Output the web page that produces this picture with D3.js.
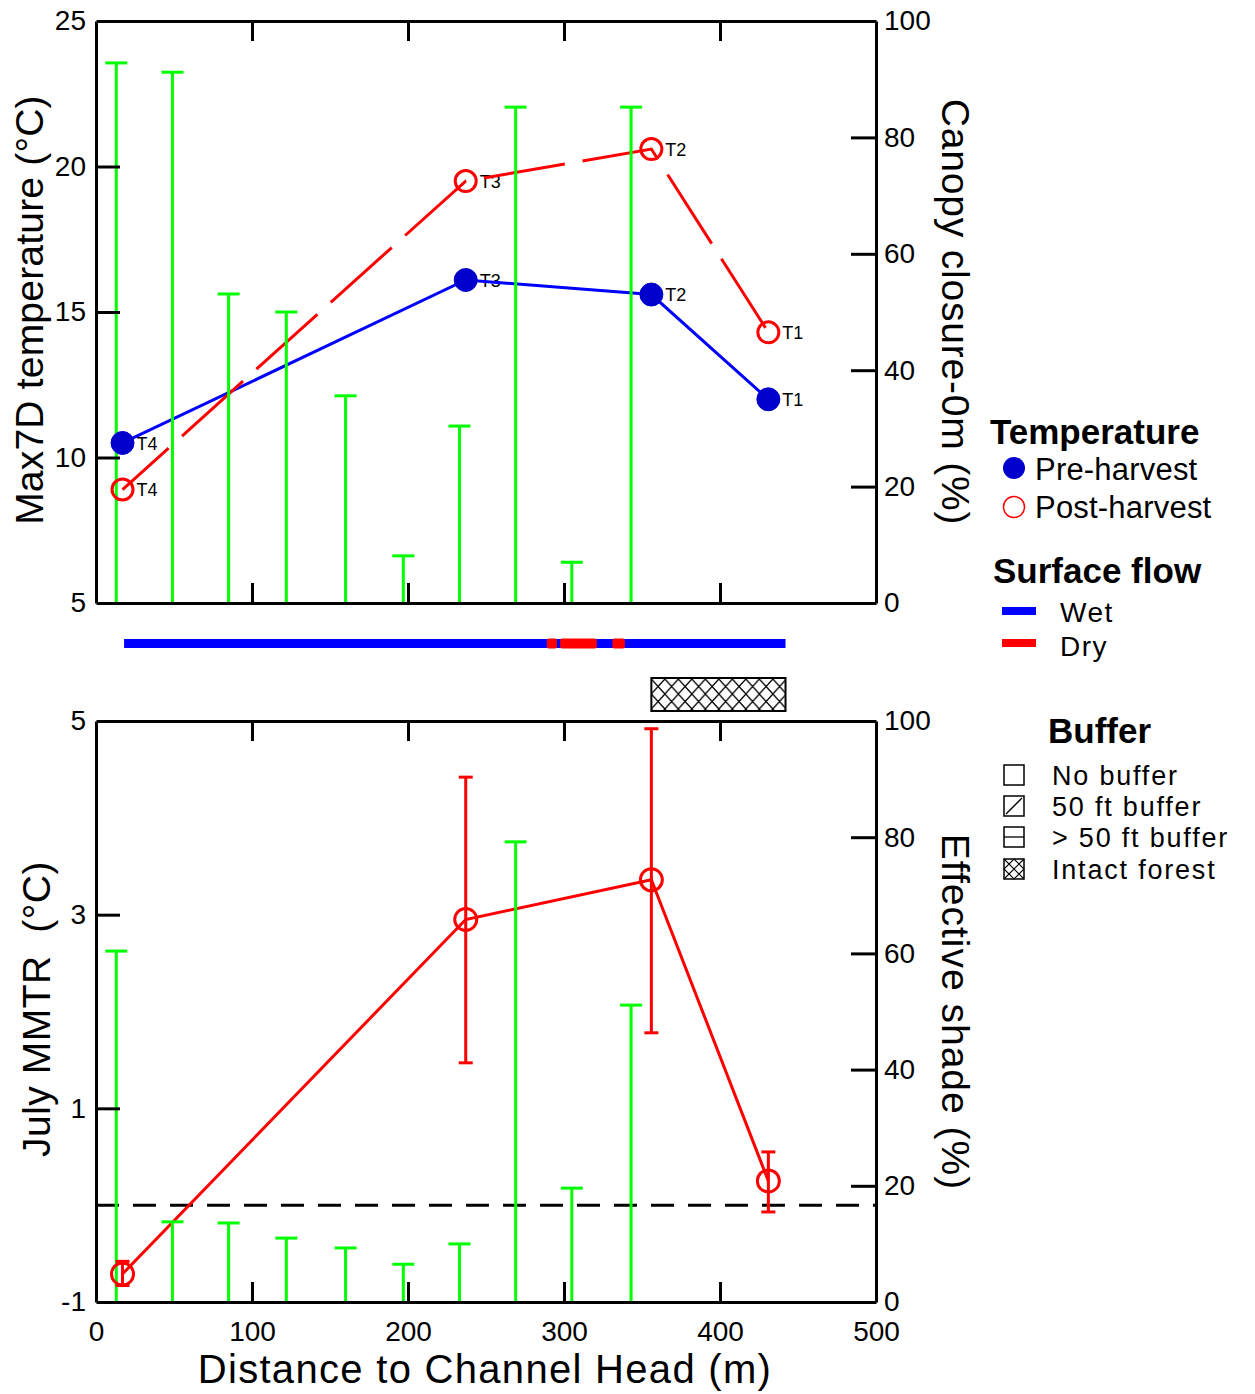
<!DOCTYPE html>
<html>
<head>
<meta charset="utf-8">
<script src="https://cdn.jsdelivr.net/npm/d3@7"></script>
<style>
  html, body { margin: 0; padding: 0; background: #fff; }
  svg { display: block; font-family: "Liberation Sans", Arial, sans-serif; }
</style>
</head>
<body>
<svg id="chart" width="1255" height="1394"></svg>
<script>
// ---------- DATA ----------
const siteDist = [17, 237, 356, 431];
const siteLabels = ["T4", "T3", "T2", "T1"];
const preHarvest = [10.5, 16.1, 15.6, 12.0];
const postHarvest = [8.9, 19.5, 20.6, 14.3];

const vegDist = [13, 49, 85, 122, 160, 197, 233, 269, 305, 343];
const canopyClosure = [92.8, 91.2, 53.1, 50.0, 35.6, 8.1, 30.4, 85.2, 7.0, 85.2];
const effectiveShade = [60.4, 13.8, 13.6, 11.0, 9.3, 6.5, 10.0, 79.2, 19.6, 51.1];

const mmtr = [-0.71, 2.95, 3.36, 0.25];
const mmtrLow = [-0.83, 1.47, 1.78, -0.07];
const mmtrHigh = [-0.58, 4.42, 4.92, 0.55];
const mmtrReference = 0;

const wetRange = [18, 442];
const dryRanges = [[289, 295.5], [297.5, 321], [331, 339]];
const intactForestRange = [356, 442];

const xTicks = [100, 200, 300, 400];
const xLabelTicks = [0, 100, 200, 300, 400, 500];
const topLeftTicks = [5, 10, 15, 20, 25];
const pctTicks = [0, 20, 40, 60, 80, 100];
const botLeftTicks = [-1, 1, 3, 5];

// ---------- SETUP ----------
const svg = d3.select("#chart");
const L = 96, R = 876;
const x = d3.scaleLinear([0, 500], [L, R]);
const yTop = d3.scaleLinear([5, 25], [603, 21]);
const yTopR = d3.scaleLinear([0, 100], [603, 21]);
const yBot = d3.scaleLinear([-1, 5], [1302, 721]);
const yBotR = d3.scaleLinear([0, 100], [1302, 721]);
const fmt = d => String(d);

const GREEN = "#00ff00", BLUE = "#0000ff", NAVY = "#0000cc", RED = "#ff0000";

const defs = svg.append("defs");
const pat = defs.append("pattern").attr("id", "xhatch")
  .attr("patternUnits", "userSpaceOnUse")
  .attr("width", 13.5).attr("height", 15).attr("x", x(intactForestRange[0])).attr("y", 679);
pat.append("rect").attr("width", 13.5).attr("height", 15).attr("fill", "#fff");
pat.append("path").attr("d", "M0,0L13.5,15M13.5,0L0,15").attr("stroke", "#000").attr("stroke-width", 1.3);

function styleAxis(g) {
  g.selectAll("path.domain").attr("stroke", "#000").attr("stroke-width", 3);
  g.selectAll(".tick line").attr("stroke", "#000").attr("stroke-width", 3);
  g.selectAll(".tick text").attr("fill", "#000").attr("font-size", 28)
    .attr("font-family", "'Liberation Sans', Arial, sans-serif");
}

function panel(yL, yR, leftTicks, bottomLabels) {
  const y0 = yL.range()[0], y1 = yL.range()[1];
  svg.append("g").attr("transform", `translate(0,${y0})`)
    .call(d3.axisBottom(x).tickValues(bottomLabels ? xLabelTicks : xTicks)
      .tickSize(-20).tickSizeOuter(0).tickPadding(19)
      .tickFormat(bottomLabels ? fmt : ""))
    .call(styleAxis)
    .call(g => g.selectAll(".tick").filter(d => d === 0 || d === 500).select("line").remove());
  svg.append("g").attr("transform", `translate(0,${y1})`)
    .call(d3.axisTop(x).tickValues(xTicks).tickSize(-20).tickSizeOuter(0).tickFormat(""))
    .call(styleAxis);
  svg.append("g").attr("transform", `translate(${L},0)`)
    .call(d3.axisLeft(yL).tickValues(leftTicks).tickSize(-24).tickSizeOuter(0).tickPadding(10).tickFormat(fmt))
    .call(styleAxis)
    .call(g => g.selectAll(".tick").filter(d => d === yL.domain()[0] || d === yL.domain()[1]).select("line").remove());
  svg.append("g").attr("transform", `translate(${R},0)`)
    .call(d3.axisRight(yR).tickValues(pctTicks).tickSize(-25).tickSizeOuter(0).tickPadding(8).tickFormat(fmt))
    .call(styleAxis)
    .call(g => g.selectAll(".tick").filter(d => d === 0 || d === 100).select("line").remove());
}

function greenBars(vals, yR) {
  const g = svg.append("g");
  vegDist.forEach((d, i) => {
    const xx = x(d);
    g.append("line").attr("x1", xx).attr("x2", xx).attr("y1", yR(0)).attr("y2", yR(vals[i]))
      .attr("stroke", GREEN).attr("stroke-width", 3);
    g.append("line").attr("x1", xx - 11).attr("x2", xx + 11).attr("y1", yR(vals[i])).attr("y2", yR(vals[i]))
      .attr("stroke", GREEN).attr("stroke-width", 3);
  });
}

// ---------- TOP PANEL ----------
const sites = siteDist.map((d, i) => ({ d, pre: preHarvest[i], post: postHarvest[i], lab: siteLabels[i], m: mmtr[i], lo: mmtrLow[i], hi: mmtrHigh[i] }));

const lab = svg.append("g").attr("font-size", 18).attr("fill", "#000");
sites.forEach(s => {
  lab.append("text").attr("x", x(s.d) + 14).attr("y", yTop(s.pre) + 2).attr("dominant-baseline", "middle").text(s.lab);
  lab.append("text").attr("x", x(s.d) + 14).attr("y", yTop(s.post) + 2).attr("dominant-baseline", "middle").text(s.lab);
});

svg.append("path").datum(sites)
  .attr("d", d3.line().x(s => x(s.d)).y(s => yTop(s.pre)))
  .attr("fill", "none").attr("stroke", BLUE).attr("stroke-width", 3);
svg.append("path").datum(sites)
  .attr("d", d3.line().x(s => x(s.d)).y(s => yTop(s.post)))
  .attr("fill", "none").attr("stroke", RED).attr("stroke-width", 3)
  .attr("stroke-dasharray", "82,18").attr("stroke-dashoffset", 20);

greenBars(canopyClosure, yTopR);

svg.append("g").selectAll("circle").data(sites).join("circle")
  .attr("cx", s => x(s.d)).attr("cy", s => yTop(s.pre)).attr("r", 11.5)
  .attr("fill", NAVY).attr("stroke", NAVY).attr("stroke-width", 1);
svg.append("g").selectAll("circle").data(sites).join("circle")
  .attr("cx", s => x(s.d)).attr("cy", s => yTop(s.post)).attr("r", 10.5)
  .attr("fill", "none").attr("stroke", RED).attr("stroke-width", 3);

panel(yTop, yTopR, topLeftTicks, false);

// ---------- SURFACE FLOW + BUFFER ----------
svg.append("rect").attr("x", x(wetRange[0])).attr("width", x(wetRange[1]) - x(wetRange[0]))
  .attr("y", 639).attr("height", 9).attr("fill", BLUE);
svg.append("g").selectAll("rect").data(dryRanges).join("rect")
  .attr("x", d => x(d[0])).attr("width", d => x(d[1]) - x(d[0]))
  .attr("y", 638.5).attr("height", 10).attr("rx", 2).attr("fill", RED);

svg.append("rect").attr("x", x(intactForestRange[0])).attr("width", x(intactForestRange[1]) - x(intactForestRange[0]))
  .attr("y", 678).attr("height", 33).attr("fill", "url(#xhatch)").attr("stroke", "#000").attr("stroke-width", 2);

// ---------- BOTTOM PANEL ----------
svg.append("line").attr("x1", L).attr("x2", R).attr("y1", yBot(mmtrReference)).attr("y2", yBot(mmtrReference))
  .attr("stroke", "#000").attr("stroke-width", 3).attr("stroke-dasharray", "23,14");

svg.append("path").datum(sites)
  .attr("d", d3.line().x(s => x(s.d)).y(s => yBot(s.m)))
  .attr("fill", "none").attr("stroke", RED).attr("stroke-width", 3);

greenBars(effectiveShade, yBotR);

const eb = svg.append("g").attr("stroke", RED).attr("stroke-width", 3);
sites.forEach(s => {
  const xx = x(s.d);
  eb.append("line").attr("x1", xx).attr("x2", xx).attr("y1", yBot(s.lo)).attr("y2", yBot(s.hi));
  eb.append("line").attr("x1", xx - 7).attr("x2", xx + 7).attr("y1", yBot(s.lo)).attr("y2", yBot(s.lo));
  eb.append("line").attr("x1", xx - 7).attr("x2", xx + 7).attr("y1", yBot(s.hi)).attr("y2", yBot(s.hi));
});
svg.append("g").selectAll("circle").data(sites).join("circle")
  .attr("cx", s => x(s.d)).attr("cy", s => yBot(s.m)).attr("r", 11)
  .attr("fill", "none").attr("stroke", RED).attr("stroke-width", 3);

panel(yBot, yBotR, botLeftTicks, true);

// ---------- TITLES ----------
const title = (t, tx, ty, rot, size, ls) => svg.append("text")
  .attr("transform", `translate(${tx},${ty}) rotate(${rot})`)
  .attr("text-anchor", "middle").attr("dominant-baseline", "central")
  .attr("font-size", size).attr("letter-spacing", ls).attr("fill", "#000").text(t);
title("Max7D temperature (°C)", 29, 310, -90, 39, 0.2);
title("Canopy closure-0m (%)", 955, 312, 90, 39, 0.8);
title("July MMTR\u00a0\u00a0(°C)", 36, 1009, -90, 39, 0.5);
title("Effective shade (%)", 955, 1012, 90, 39, 1);
svg.append("text").attr("x", 485).attr("y", 1383).attr("text-anchor", "middle")
  .attr("font-size", 40).attr("letter-spacing", 1.3).attr("fill", "#000").text("Distance to Channel Head (m)");

// ---------- LEGEND ----------
const lg = svg.append("g").attr("fill", "#000");
const bold = (t, tx, ty) => lg.append("text").attr("x", tx).attr("y", ty).attr("font-size", 35).attr("font-weight", "bold").text(t);
const item = (t, tx, ty, fs, ls) => lg.append("text").attr("x", tx).attr("y", ty).attr("font-size", fs)
  .attr("letter-spacing", ls).attr("dominant-baseline", "central").text(t);

bold("Temperature", 990, 444);
lg.append("circle").attr("cx", 1014).attr("cy", 468).attr("r", 11).attr("fill", NAVY);
item("Pre-harvest", 1035, 469, 31, 0.2);
lg.append("circle").attr("cx", 1014).attr("cy", 507).attr("r", 10.5).attr("fill", "none").attr("stroke", RED).attr("stroke-width", 1.5);
item("Post-harvest", 1035, 507, 31, 0.2);

bold("Surface flow", 993, 583);
lg.append("rect").attr("x", 1002).attr("y", 607).attr("width", 34).attr("height", 8).attr("fill", BLUE);
item("Wet", 1060, 612, 28, 1.5);
lg.append("rect").attr("x", 1002).attr("y", 639).attr("width", 34).attr("height", 8).attr("fill", RED);
item("Dry", 1060, 646, 28, 1.5);

bold("Buffer", 1048, 743);
const bx = 1004, bs = 20;
const boxY = [775, 806, 837, 869];
["No buffer", "50 ft buffer", "> 50 ft buffer", "Intact forest"].forEach((t, i) => {
  const cy = boxY[i], y0 = cy - bs / 2;
  lg.append("rect").attr("x", bx).attr("y", y0).attr("width", bs).attr("height", bs)
    .attr("fill", "#fff").attr("stroke", "#000").attr("stroke-width", 1.5);
  if (i === 1) lg.append("path").attr("d", `M${bx + 2},${y0 + bs - 2}L${bx + bs - 2},${y0 + 2}`).attr("stroke", "#000").attr("stroke-width", 1.3);
  if (i === 2) lg.append("path").attr("d", `M${bx},${cy}L${bx + bs},${cy}`).attr("stroke", "#000").attr("stroke-width", 1.3);
  if (i === 3) lg.append("path").attr("d", `M${bx},${y0}L${bx + bs},${y0 + bs}M${bx + bs},${y0}L${bx},${y0 + bs}M${bx + bs / 2},${y0}L${bx + bs},${cy}L${bx + bs / 2},${y0 + bs}L${bx},${cy}Z`).attr("fill", "none").attr("stroke", "#000").attr("stroke-width", 1.1);
  item(t, 1052, cy + 1, 27, 1.8);
});
</script>
</body>
</html>
